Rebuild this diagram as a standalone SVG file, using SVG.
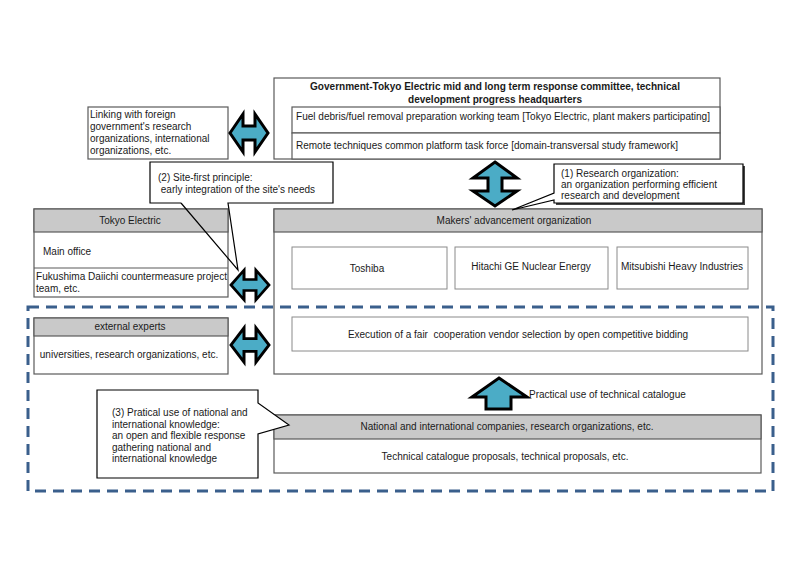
<svg xmlns="http://www.w3.org/2000/svg" width="800" height="566" viewBox="0 0 800 566">
<style>
text{font-family:"Liberation Sans",Arial,sans-serif;font-size:10px;fill:#1a1a1a}
.b{font-weight:bold;font-size:10.5px}
.box{fill:#fff;stroke:#5a5a5a;stroke-width:1.2}
.hdr{fill:#c9c9c9;stroke:#5a5a5a;stroke-width:1.2}
.in{fill:#fff;stroke:#8a8a8a;stroke-width:1}
.arr{fill:#4bacc6;stroke:#000;stroke-width:3;stroke-linejoin:miter}
.call{fill:#fff;stroke:#000;stroke-width:1.2}
.c{text-anchor:middle}
</style>
<defs>
<path id="hda" d="M-19,0 L-6,-19 L-6,-7 L6,-7 L6,-19 L19,0 L6,19 L6,7 L-6,7 L-6,19 Z"/>
</defs>
<rect width="800" height="566" fill="#fff"/>

<g id="committee">
<rect class="box" x="274" y="78" width="446" height="81"/>
<text class="b c" x="495" y="90" textLength="370" lengthAdjust="spacingAndGlyphs">Government-Tokyo Electric mid and long term response committee, technical</text>
<text class="b c" x="495" y="103" textLength="174" lengthAdjust="spacingAndGlyphs">development progress headquarters</text>
<rect class="box" x="292" y="107" width="428" height="26"/>
<rect class="box" x="292" y="133" width="428" height="26"/>
<text x="296" y="120" textLength="414" lengthAdjust="spacingAndGlyphs">Fuel debris/fuel removal preparation working team [Tokyo Electric, plant makers participating]</text>
<text x="296" y="149" textLength="382" lengthAdjust="spacingAndGlyphs">Remote techniques common platform task force [domain-transversal study framework]</text>
</g>

<g id="foreign">
<rect class="box" x="88" y="107" width="140" height="52"/>
<text x="90" y="118">Linking with foreign</text>
<text x="90" y="130">government's research</text>
<text x="90" y="142">organizations, international</text>
<text x="90" y="154">organizations, etc.</text>
</g>

<g id="tokyo">
<rect class="box" x="34" y="209" width="194" height="88"/>
<rect class="hdr" x="34" y="209" width="194" height="23"/>
<text class="c" x="130" y="224">Tokyo Electric</text>
<line x1="34" y1="268" x2="228" y2="268" stroke="#5a5a5a" stroke-width="1.2"/>
<text x="43" y="255">Main office</text>
<text x="36" y="280" textLength="191" lengthAdjust="spacingAndGlyphs">Fukushima Daiichi countermeasure project</text>
<text x="36" y="292">team, etc.</text>
</g>

<g id="makers">
<rect class="box" x="274" y="209" width="488" height="165"/>
<rect class="hdr" x="274" y="209" width="488" height="23"/>
<text class="c" x="514" y="224">Makers' advancement organization</text>
<rect class="in" x="292" y="247" width="155" height="42"/>
<text class="c" x="367" y="272">Toshiba</text>
<rect class="in" x="455" y="247" width="153" height="42"/>
<text class="c" x="531" y="270">Hitachi GE Nuclear Energy</text>
<rect class="in" x="617" y="247" width="131" height="42"/>
<text class="c" x="682" y="270" textLength="122" lengthAdjust="spacingAndGlyphs">Mitsubishi Heavy Industries</text>
<rect class="in" x="292" y="317" width="456" height="34"/>
<text class="c" x="518" y="338" xml:space="preserve">Execution of a fair  cooperation vendor selection by open competitive bidding</text>
</g>

<g id="experts">
<rect class="box" x="34" y="318" width="194" height="56"/>
<rect class="hdr" x="34" y="318" width="194" height="18"/>
<text class="c" x="130" y="330">external experts</text>
<text class="c" x="129" y="358">universities, research organizations, etc.</text>
</g>

<g id="national">
<rect class="box" x="274" y="415" width="487" height="58"/>
<rect class="hdr" x="274" y="415" width="487" height="24"/>
<text class="c" x="507" y="430">National and international companies, research organizations, etc.</text>
<text class="c" x="505" y="460">Technical catalogue proposals, technical proposals, etc.</text>
</g>

<g id="connectors">
<use href="#hda" class="arr" transform="translate(249,133)"/>
<use href="#hda" class="arr" transform="translate(250,285) scale(1,0.78)"/>
<use href="#hda" class="arr" transform="translate(250,345) scale(1,0.9)"/>
<path class="arr" d="M495,162 L517,178 L502,178 L502,191 L517,191 L495,206 L473,191 L488,191 L488,178 L473,178 Z"/>
<path class="arr" d="M499,378 L527,397 L511,397 L511,409 L486,409 L486,397 L472,397 Z"/>
<text x="529" y="398">Practical use of technical catalogue</text>
</g>

<g id="callout2">
<rect x="150" y="162" width="183" height="41" fill="#fff"/>
<path d="M181,203 H150 V162 H333 V203 H228 L238,270 L181,203" fill="none" stroke="#000" stroke-width="1.2"/>
<text x="158" y="181">(2) Site-first principle:</text>
<text x="158" y="193" xml:space="preserve"> early integration of the site's needs</text>
</g>

<g id="callout1">
<rect x="556" y="166" width="189" height="39" fill="#444"/>
<path class="call" d="M554,164 H743 V203 H554 V200 L512,210 L554,193 Z"/>
<text x="561" y="177">(1) Research organization:</text>
<text x="561" y="188">an organization performing efficient</text>
<text x="561" y="199">research and development</text>
</g>

<rect id="scope" x="28" y="307" width="745" height="184" fill="none" stroke="#3a5f8c" stroke-width="3" stroke-dasharray="11 7"/>

<g id="callout3">
<path class="call" d="M97,390 H258 V403 L289,425 L258,434 V478 H97 Z"/>
<text x="112" y="416">(3) Pratical use of national and</text>
<text x="112" y="428">international knowledge:</text>
<text x="112" y="439">an open and flexible response</text>
<text x="112" y="451">gathering national and</text>
<text x="112" y="462">international knowledge</text>
</g>
</svg>
